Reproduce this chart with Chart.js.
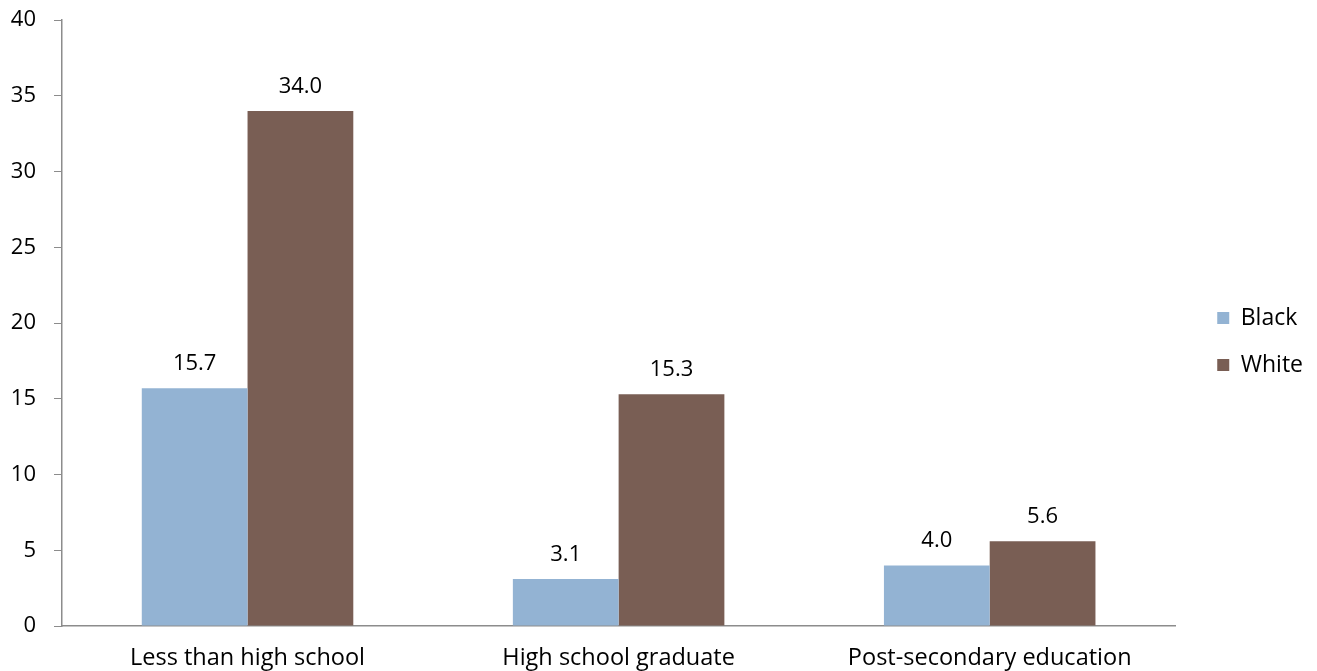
<!DOCTYPE html>
<html>
<head>
  <title>Education by race</title>
  <script src="https://cdn.jsdelivr.net/npm/chart.js@4.4.0/dist/chart.umd.min.js"></script>
  <style>
    html, body { margin: 0; padding: 0; background: #fff; }
    .chart-container { width: 1317px; height: 671px; position: relative; }
  </style>
</head>
<body>
  <div class="chart-container">
    <canvas id="edu-chart" width="1317" height="671"></canvas>
  </div>
  <script>
    var categories = ['Less than high school', 'High school graduate', 'Post-secondary education'];
    var blackValues = [15.7, 3.1, 4.0];
    var whiteValues = [34.0, 15.3, 5.6];
    var yTicks = [0, 5, 10, 15, 20, 25, 30, 35, 40];

    var fontFamily = '"Open Sans", Lato, sans-serif';
    var axisGray = '#8c8c8c';

    // writes the value above each bar
    var valueLabels = {
      id: 'valueLabels',
      afterDatasetsDraw: function (chart) {
        var ctx = chart.ctx;
        ctx.save();
        ctx.font = '22px ' + fontFamily;
        ctx.fillStyle = '#000';
        ctx.textAlign = 'center';
        ctx.textBaseline = 'alphabetic';
        chart.data.datasets.forEach(function (ds, i) {
          chart.getDatasetMeta(i).data.forEach(function (bar, j) {
            ctx.fillText(ds.data[j].toFixed(1), bar.x, bar.y - 18);
          });
        });
        ctx.restore();
      }
    };

    // leave a wider gap between the plot and the legend
    var legendShift = {
      id: 'legendShift',
      afterLayout: function (chart) {
        var lg = chart.legend;
        lg.left += 18; lg.right += 18;
        lg.top -= 4; lg.bottom -= 4;
      }
    };

    var ctx = document.getElementById('edu-chart').getContext('2d');
    new Chart(ctx, {
      type: 'bar',
      data: {
        labels: categories,
        datasets: [{
          label: 'Black',
          data: blackValues,
          backgroundColor: '#93b3d3',
          borderWidth: 0,
          categoryPercentage: 0.57,
          barPercentage: 1
        }, {
          label: 'White',
          data: whiteValues,
          backgroundColor: '#795e54',
          borderWidth: 0,
          categoryPercentage: 0.57,
          barPercentage: 1
        }]
      },
      options: {
        responsive: false,
        animation: false,
        devicePixelRatio: 1,
        layout: { padding: { top: 20, right: 22, left: 0, bottom: 0 } },
        plugins: {
          tooltip: { enabled: false },
          legend: {
            position: 'right',
            labels: {
              boxWidth: 12,
              boxHeight: 12,
              padding: 24,
              color: '#000',
              font: { family: fontFamily, size: 23 }
            }
          }
        },
        scales: {
          x: {
            grid: {
              display: false
            },
            border: { color: axisGray, width: 1.5 },
            ticks: {
              color: '#000',
              padding: 10,
              maxRotation: 0,
              autoSkip: false,
              font: { family: fontFamily, size: 23.5 }
            },
            afterFit: function (scale) { scale.height = 45; }
          },
          y: {
            min: 0,
            max: 40,
            afterBuildTicks: function (scale) {
              scale.ticks = yTicks.map(function (v) { return { value: v }; });
            },
            grid: {
              drawOnChartArea: false,
              tickLength: 8,
              color: axisGray
            },
            border: { color: axisGray, width: 1.5 },
            ticks: {
              color: '#000',
              padding: 18,
              font: { family: fontFamily, size: 22 }
            },
            afterFit: function (scale) {
              scale.width = 62;
              scale.paddingTop = 0;
              scale.paddingBottom = 0;
            }
          }
        }
      },
      plugins: [valueLabels, legendShift]
    });
  </script>
</body>
</html>
